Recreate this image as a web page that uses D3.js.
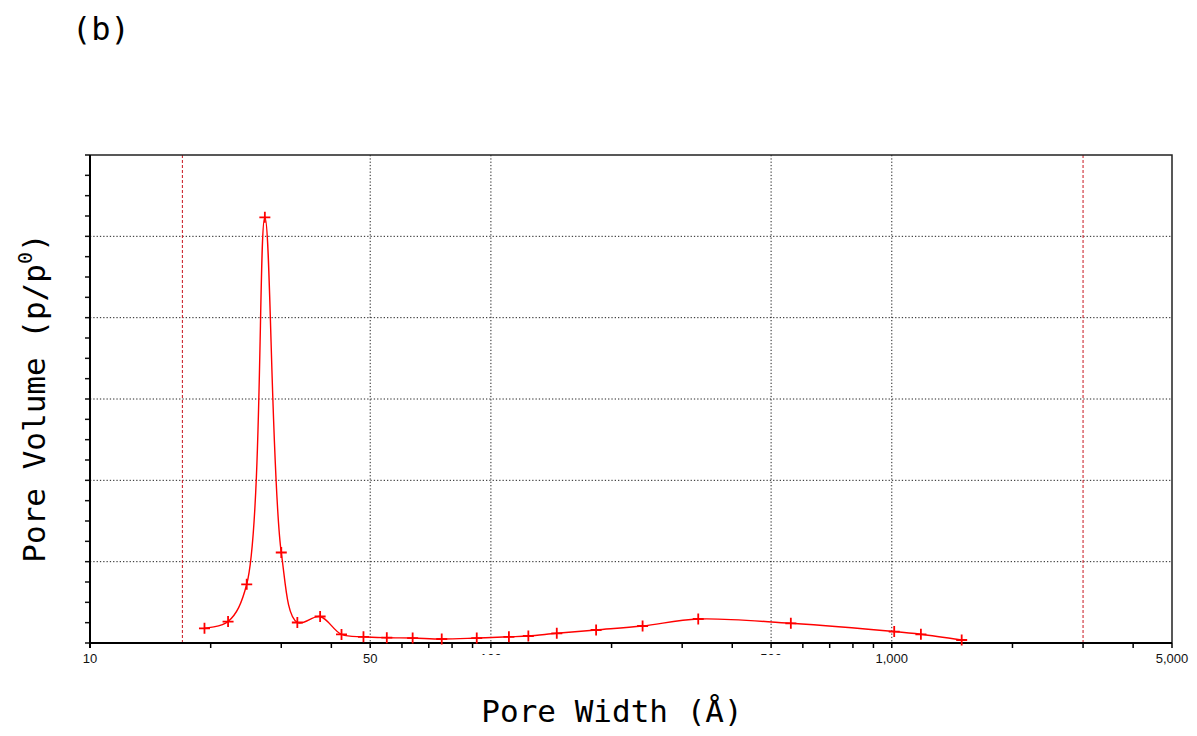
<!DOCTYPE html>
<html>
<head>
<meta charset="utf-8">
<script src="https://cdn.jsdelivr.net/npm/d3@7"></script>
<style>
  body { margin: 0; background: #fff; }
  svg { display: block; }
</style>
</head>
<body>
<svg id="chart"></svg>
<script>
// pore width (Å) and pore volume
const poreWidth = [19.3, 22.1, 24.6, 27.3, 30.0, 32.9, 37.5, 42.4, 48.1, 55.0, 63.8, 75.4,
                   92.2, 110.9, 124, 146, 183, 239, 329, 560, 1014, 1182, 1494];
const poreVolume = [0.00181, 0.00264, 0.00722, 0.05234, 0.01113, 0.00252, 0.00326, 0.00105,
                    0.00076, 0.00065, 0.00061, 0.00049, 0.00061, 0.00076, 0.00086, 0.00119,
                    0.0016, 0.00209, 0.00295, 0.00242, 0.00141, 0.00107, 0.00037];

// x axis
const majorTicks = [10, 50, 100, 500, 1000, 5000];
const majorLabels = ["10", "50", "100", "500", "1,000", "5,000"];
const gridX = [50, 100, 500, 1000];
const limitLines = [17, 3000];
// y axis (no labels in the original)
const gridY = [0.01, 0.02, 0.03, 0.04, 0.05];

const width = 1197, height = 736;
const margin = { top: 155, right: 25, bottom: 93, left: 90 };
const innerW = width - margin.left - margin.right;
const innerH = height - margin.top - margin.bottom;

const mono = "'DejaVu Sans Mono', monospace";

const svg = d3.select("#chart").attr("width", width).attr("height", height);
const g = svg.append("g").attr("transform", `translate(${margin.left},${margin.top})`);

const x = d3.scaleLog().domain([10, 5000]).range([0, innerW]);
const y = d3.scaleLinear().domain([0, 0.06]).range([innerH, 0]);

// minor ticks 20,30,...,90,200,...
const minorTicks = [];
for (let p = 10; p < 5000; p *= 10) {
    for (let m = 2; m <= 9; m++) {
        const v = m * p;
        if (v < 5000 && !majorTicks.includes(v)) minorTicks.push(v);
    }
}

// horizontal dotted grid
g.selectAll(".gy").data(gridY).join("line")
    .attr("x1", 0).attr("x2", innerW)
    .attr("y1", d => y(d)).attr("y2", d => y(d))
    .attr("stroke", "#222").attr("stroke-width", 1)
    .attr("stroke-dasharray", "1.3,2");

// vertical dotted grid
g.selectAll(".gx").data(gridX).join("line")
    .attr("x1", d => x(d)).attr("x2", d => x(d))
    .attr("y1", 0).attr("y2", innerH)
    .attr("stroke", "#222").attr("stroke-width", 1)
    .attr("stroke-dasharray", "1.3,2");

// red dashed limit lines
g.selectAll(".lim").data(limitLines).join("line")
    .attr("x1", d => x(d)).attr("x2", d => x(d))
    .attr("y1", 0).attr("y2", innerH)
    .attr("stroke", "#c8141e").attr("stroke-width", 1)
    .attr("stroke-dasharray", "3,2");

// frame (top and right)
g.append("path")
    .attr("d", `M0,0H${innerW}V${innerH}`)
    .attr("fill", "none").attr("stroke", "#222").attr("stroke-width", 1.5);

// x axis
const xAxis = g.append("g").attr("transform", `translate(0,${innerH})`);
xAxis.selectAll(".tk").data(majorTicks.concat(minorTicks)).join("line")
    .attr("x1", d => x(d)).attr("x2", d => x(d))
    .attr("y1", 0).attr("y2", 5)
    .attr("stroke", "#000").attr("stroke-width", 1.5);
xAxis.append("line").attr("x1", 0).attr("x2", innerW)
    .attr("stroke", "#000").attr("stroke-width", 2);

// 100 and 500 labels are cut off in the original
svg.append("defs").append("clipPath").attr("id", "cut")
    .append("rect").attr("x", -30).attr("y", 8).attr("width", 60).attr("height", 4);

const isCut = d => d === 100 || d === 500;
xAxis.selectAll(".lbl").data(majorTicks).join("text")
    .attr("transform", d => isCut(d) ? `translate(${x(d)},0)` : null)
    .attr("x", d => isCut(d) ? 0 : x(d))
    .attr("y", 20)
    .attr("text-anchor", "middle")
    .attr("clip-path", d => isCut(d) ? "url(#cut)" : null)
    .style("font-family", "'Liberation Sans', Arial, sans-serif")
    .style("font-size", "13px")
    .attr("fill", "#111")
    .text((d, i) => majorLabels[i]);

// y axis
const yTicks = d3.range(0, 0.0601, 0.0025);
const yAxis = g.append("g");
yAxis.selectAll(".tk").data(yTicks).join("line")
    .attr("x1", -5).attr("x2", 0)
    .attr("y1", d => y(d)).attr("y2", d => y(d))
    .attr("stroke", "#111").attr("stroke-width", 1.5);
yAxis.append("line").attr("y1", 0).attr("y2", innerH + 5)
    .attr("stroke", "#000").attr("stroke-width", 2);

// curve
const line = d3.line()
    .x((d, i) => x(poreWidth[i]))
    .y(d => y(d))
    .curve(d3.curveCatmullRom);

g.append("path")
    .datum(poreVolume)
    .attr("d", line)
    .attr("fill", "none")
    .attr("stroke", "#ff0000")
    .attr("stroke-width", 1.4);

// + markers
const mk = 5.5;
g.selectAll(".pt").data(poreVolume).join("path")
    .attr("transform", (d, i) => `translate(${x(poreWidth[i])},${y(d)})`)
    .attr("d", `M${-mk},0H${mk}M0,${-mk}V${mk}`)
    .attr("stroke", "#ff0000").attr("stroke-width", 1.8);

// titles
svg.append("text")
    .attr("x", 72).attr("y", 40)
    .style("font-family", mono)
    .style("font-size", "32px")
    .text("(b)");

svg.append("text")
    .attr("x", 612).attr("y", 722)
    .attr("text-anchor", "middle")
    .style("font-family", mono)
    .style("font-size", "31px")
    .text("Pore Width (Å)");

const yl = svg.append("text")
    .attr("transform", "translate(45,398) rotate(-90)")
    .attr("text-anchor", "middle")
    .style("font-family", mono)
    .style("font-size", "31px");
yl.append("tspan").text("Pore Volume (p/p");
yl.append("tspan").attr("dy", -13).style("font-size", "20px").text("0");
yl.append("tspan").attr("dy", 13).text(")");
</script>
</body>
</html>
